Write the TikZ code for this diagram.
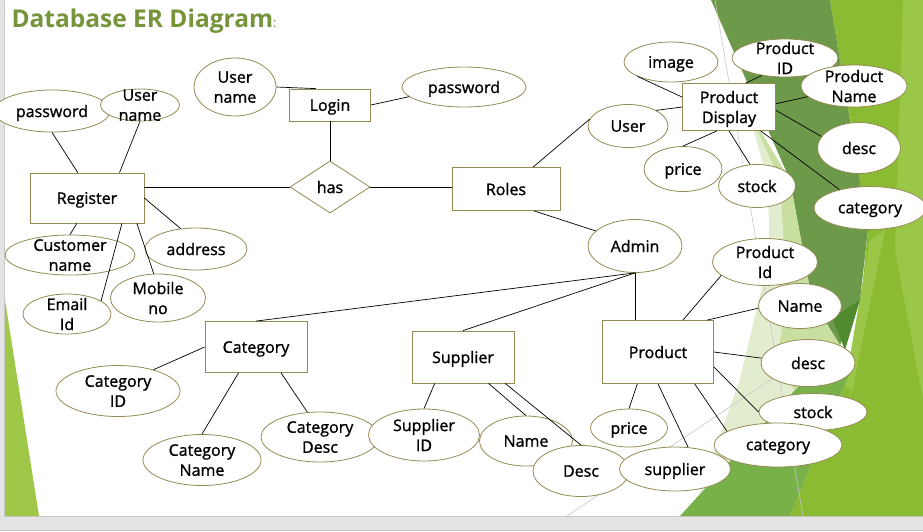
\documentclass[tikz,border=0pt]{standalone}
\usepackage{fontspec}
\setmainfont{Open Sans}
\newfontfamily\erfont{Open Sans}[FakeBold=1.2]
\usepackage{tikz}
\usetikzlibrary{shapes.geometric}
\definecolor{titlegreen}{RGB}{118,148,58}
\definecolor{erborder}{RGB}{148,138,84}
\definecolor{framegray}{RGB}{228,228,228}
\definecolor{frameline}{RGB}{200,200,200}
\definecolor{leafgreen}{RGB}{160,200,72}
\definecolor{darkgreen}{RGB}{108,154,74}
\definecolor{deepgreen}{RGB}{80,138,46}
\definecolor{limegreen}{RGB}{138,187,50}
\definecolor{lightlime}{RGB}{155,199,72}
\definecolor{midgreen}{RGB}{120,176,74}
\definecolor{softgreen}{RGB}{200,223,160}
\definecolor{palegreen}{RGB}{226,237,207}

\begin{document}
\begin{tikzpicture}[x=1pt, y=-1pt, font=\erfont\fontsize{16}{20}\selectfont,
  entity/.style={rectangle, draw=erborder, line width=0.8pt, fill=white, inner sep=0pt, align=center, text depth=0pt},
  attr/.style={ellipse, draw=erborder, line width=0.8pt, fill=white, inner sep=-30pt, align=center, text depth=0pt},
  rel/.style={diamond, draw=erborder, line width=0.8pt, fill=white, inner sep=0pt, text depth=0pt},
  sz/.style 2 args={minimum width=#1, minimum height=#2},
  link/.style={draw=black, line width=0.7pt}]
\useasboundingbox (0,0) rectangle (923,531);
\fill[white] (0,0) rectangle (923,531);
\fill[framegray] (0,0) rectangle (4.5,531);
\fill[framegray] (0,516) rectangle (923,531);
\draw[frameline, line width=1pt] (4.5,0) -- (4.5,516) -- (923,516);
\draw[frameline, line width=1pt] (0,530.5) -- (923,530.5);
\fill[leafgreen] (5,300) -- (39,516) -- (5,516) -- cycle;
\fill[limegreen] (830,0) -- (923,0) -- (923,516) -- (790,516) -- (855,360) -- (868,230) -- cycle;
\fill[lightlime] (903,0) -- (923,0) -- (923,400) -- (895,250) -- cycle;
\fill[lightlime] (870,240) -- (885,230) -- (852,392) -- (845,385) -- cycle;
\fill[darkgreen] (711,0) -- (830,0) -- (868,230) -- (860,300) -- (840,345) -- (812,300) -- (790,180) -- cycle;
\fill[deepgreen] (832,318) -- (860,300) -- (845,350) -- cycle;
\fill[softgreen] (748,110) -- (790,180) -- (812,300) -- (840,345) -- (795,390) -- (700,493) -- (740,380) -- (770,255) -- (768,180) -- cycle;
\fill[palegreen] (748,110) -- (780,180) -- (787,300) -- (775,370) -- (795,390) -- (700,493) -- (740,380) -- (770,255) -- (768,180) -- cycle;
\fill[midgreen] (680,516) -- (790,516) -- (855,360) -- (840,345) -- (795,390) -- cycle;
\draw[frameline, line width=0.6pt] (715,0) -- (803,516);
\draw[frameline, line width=0.6pt] (567,516) -- (800,360);

\node[anchor=base west, text=titlegreen, font=\bfseries\fontsize{24.5}{28}\selectfont] (title) at (8,27) {Database ER Diagram{\mdseries\fontsize{13}{13}\selectfont :}};

\node[entity, sz={81}{32}] (login) at (330,105) {Login};
\node[entity, sz={114}{50}] (register) at (87,198) {Register};
\node[entity, sz={108}{43}] (roles) at (506,189) {Roles};
\node[entity, sz={93}{47}] (pdisplay) at (729,107) {Product\\Display};
\node[entity, sz={102}{51}] (category) at (256,347) {Category};
\node[entity, sz={102}{52}] (supplier) at (463,357) {Supplier};
\node[entity, sz={111}{63}] (product) at (658,352) {Product};
\node[rel, sz={80}{52}] (has) at (330,187) {has};

\node[attr, sz={82}{58}] (lname) at (235,87) {User\\name};
\node[attr, sz={124}{40}] (lpass) at (464,87) {password};
\node[attr, sz={116}{42}] (rpass) at (52,111) {password};
\node[attr, sz={79}{32}] (rname) at (140,105) {User\\name};
\node[attr, sz={130}{40}] (cname) at (70,255) {Customer\\name};
\node[attr, sz={102}{42}] (address) at (196,249) {address};
\node[attr, sz={88}{40}] (email) at (67,314) {Email\\Id};
\node[attr, sz={95}{48}] (mobile) at (158,298) {Mobile\\no};
\node[attr, sz={80}{43}] (user) at (628,126) {User};
\node[attr, sz={94}{53}] (admin) at (635,246) {Admin};
\node[attr, sz={94}{40}] (image) at (671,62) {image};
\node[attr, sz={106}{38}] (pdid) at (785,58) {Product\\ID};
\node[attr, sz={106}{42}] (pdname) at (854,86) {Product\\Name};
\node[attr, sz={83}{51}] (pddesc) at (859,148) {desc};
\node[attr, sz={112}{43}] (pdcat) at (870,208) {category};
\node[attr, sz={78}{45}] (pdprice) at (683,169) {price};
\node[attr, sz={77}{43}] (pdstock) at (757,186) {stock};
\node[attr, sz={105}{47}] (prid) at (765,262) {Product\\Id};
\node[attr, sz={83}{45}] (prname) at (800,306) {Name};
\node[attr, sz={94}{47}] (prdesc) at (808,363) {desc};
\node[attr, sz={108}{37}] (prstock) at (813,412) {stock};
\node[attr, sz={128}{44}] (prcat) at (778,445) {category};
\node[attr, sz={77}{38}] (prprice) at (629,428) {price};
\node[attr, sz={118}{50}] (cdesc) at (320,437) {Category\\Desc};
\node[attr, sz={111}{52}] (sid) at (424,435) {Supplier\\ID};
\node[attr, sz={93}{50}] (sname) at (526,441) {Name};
\node[attr, sz={96}{51}] (sdesc) at (581,471) {Desc};
\node[attr, sz={111}{44}] (prsupp) at (675,469) {supplier};
\node[attr, sz={118}{51}] (cname2) at (202,460) {Category\\Name};
\node[attr, sz={124}{51}] (cid) at (118,391) {Category\\ID};

\draw[link] (lname.east) -- (login.131);
\draw[link] (login.east) -- (lpass.190);
\draw[link] (login) -- (has);
\draw[link] (has.west -| register.east) -- (has.west);
\draw[link] (has.east) -- (has.east -| roles.west);
\draw[link] (roles.39) -- (user.170);
\draw[link] (user.29) -- (pdisplay.west);
\draw[link] (roles.-38) -- (admin.159);
\draw[link] (admin.south) -- (category.north);
\draw[link] (admin.south) -- (supplier.north);
\draw[link] (admin.south) -- (admin.south |- product.north);
\draw[link] (rpass.south) -- (register.110);
\draw[link] (rname.south) -- (register.38);
\draw[link] (register.248) -- (cname.north);
\draw[link] (register.-36) -- (email.21);
\draw[link] (register.-27) -- (mobile.100);
\draw[link] (register.east) -- (address.127);
\draw[link] (pdisplay.168) -- (image.203);
\draw[link] (pdisplay.55) -- (pdid.217);
\draw[link] (pdisplay.4) -- (pdname.193);
\draw[link] (pdisplay.-4) -- (pddesc.163);
\draw[link] (pdisplay.-37) -- (pdcat.149);
\draw[link] (pdisplay.243) -- (pdprice.north);
\draw[link] (pdisplay.south) -- (pdstock.108);
\draw[link] (product.52) -- (prid.197);
\draw[link] (product.33) -- (prname.183);
\draw[link] (product.east) -- (prdesc.174);
\draw[link] (product.-15) -- (prstock.west);
\draw[link] (product.-41) -- (prcat.165);
\draw[link] (product.south) -- (prsupp.59);
\draw[link] (product.237) -- (prprice.north);
\draw[link] (supplier.223) -- (sid.north);
\draw[link] (supplier.314) -- (sname.north);
\draw[link] (supplier.328) -- (sdesc.north);
\draw[link] (category.west) -- (cid.31);
\draw[link] (category.236) -- (cname2.north);
\draw[link] (category.314) -- (cdesc.117);
\end{tikzpicture}
\end{document}
